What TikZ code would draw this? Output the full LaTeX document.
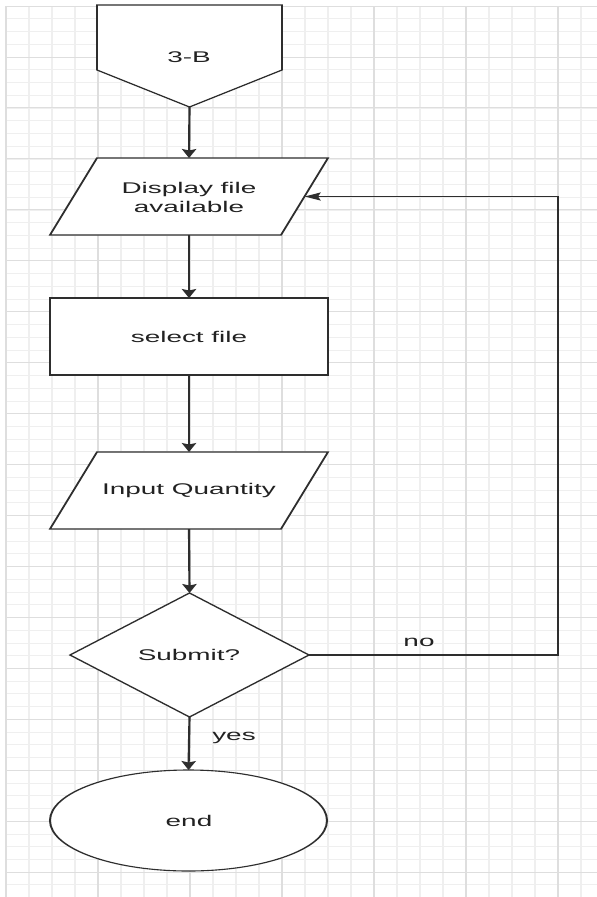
\documentclass[tikz,border=0pt]{standalone}
\usepackage{fontspec}
\setmainfont{Liberation Sans}
\usetikzlibrary{arrows.meta,fit,shapes.geometric,calc}

\definecolor{ink}{HTML}{2E2E2E}
\definecolor{txt}{HTML}{222222}
\definecolor{gridmajor}{HTML}{DEDEDE}
\definecolor{gridminor}{HTML}{EFEFEF}

\tikzset{
  outline/.style={draw=ink, line width=1.1pt},
  frame/.style={inner sep=0pt, outer sep=0pt, font=\fontsize{15.5}{18.6}\selectfont, text=txt, align=center},
  lbl/.style={inner sep=0pt, font=\fontsize{15.5}{18.6}\selectfont, text=txt},
  conn/.style={draw=ink, line width=1.2pt, -{Stealth[length=9pt,width=8pt,inset=1.5pt]}},
  gridmin/.style={draw=gridminor, line width=0.6pt},
  gridmaj/.style={draw=gridmajor, line width=0.9pt},
}

\begin{document}
\begin{tikzpicture}[x=1pt,y=-1pt]
\useasboundingbox (0,0) rectangle (597,897);
\fill[white] (0,0) rectangle (597,897);

% the sheet is stretched horizontally; coordinates below are in final pixels
\begin{scope}[transform canvas={xscale=1.8}, x=0.555556pt, y=-1pt]

  % background grid
  \foreach \k in {0,...,25} \draw[gridmin] ({6+23*\k},6) -- ({6+23*\k},897);
  \foreach \k in {0,...,70} \draw[gridmin] (6,{6.06+12.735*\k}) -- (597,{6.06+12.735*\k});
  \foreach \k in {0,...,6}  \draw[gridmaj] ({6+92*\k},6) -- ({6+92*\k},897);
  \foreach \k in {0,...,17} \draw[gridmaj] (6,{6.06+50.94*\k}) -- (597,{6.06+50.94*\k});

  % off-page connector
  \node[frame, fit={(97,5) (282,107)}] (off) {};
  \fill[white] (off.north west) -- (off.north east) -- ($(off.north east)+(0,65)$)
        -- (off.south) -- ($(off.north west)+(0,65)$) -- cycle;
  \draw[outline, line join=miter] (off.north west) -- (off.north east) -- ($(off.north east)+(0,65)$)
        -- (off.south) -- ($(off.north west)+(0,65)$) -- cycle;
  \node[lbl] (offtxt) at (189,57) {3-B};

  % input/output: display files
  \node[frame, fit={(50,158) (328,235)}] (disp) {};
  \filldraw[outline, fill=white] ($(disp.north west)+(47,0)$) -- (disp.north east)
        -- ($(disp.south east)-(47,0)$) -- (disp.south west) -- cycle;
  \node[frame] (disptxt) at (189,197.5) {Display file\\available};
  \coordinate (dispin) at ($(disp.east)+(-23.5,0)$);

  % process: select file
  \node[frame, outline, fill=white, fit={(50,298) (328,375)}] (sel) {};
  \node[lbl] (seltxt) at (189,337) {select file};

  % input/output: quantity
  \node[frame, fit={(50,452) (328,529)}] (inp) {};
  \filldraw[outline, fill=white] ($(inp.north west)+(47,0)$) -- (inp.north east)
        -- ($(inp.south east)-(47,0)$) -- (inp.south west) -- cycle;
  \node[lbl] (inptxt) at (189,490) {Input Quantity};

  % decision
  \node[frame, fit={(70,593) (309,717)}] (sub) {};
  \filldraw[outline, fill=white] (sub.north) -- (sub.east) -- (sub.south) -- (sub.west) -- cycle;
  \node[lbl] (subtxt) at (189,655) {Submit?};

  % terminator (width 277 px after stretching)
  \node[frame, ellipse, outline, fill=white, minimum width=153.9pt, minimum height=101pt]
        (endn) at (188.5,820.5) {};
  \node[lbl] (endtxt) at (189,821) {end};

  % connectors
  \draw[conn] (off.south) -- (disp.north);
  \draw[conn] (disp.south) -- (sel.north);
  \draw[conn] (sel.south) -- (inp.north);
  \draw[conn] (inp.south) -- (sub.north);
  \draw[conn] (sub.south) -- (endn.north);
  \coordinate (rail) at (558,420);
  \draw[conn] (sub.east) -| (rail) |- (dispin);

  \node[lbl] (nolbl) at (419,642) {no};
  \node[lbl] (yeslbl) at (234,738) {yes};
\end{scope}
\end{tikzpicture}
\end{document}
